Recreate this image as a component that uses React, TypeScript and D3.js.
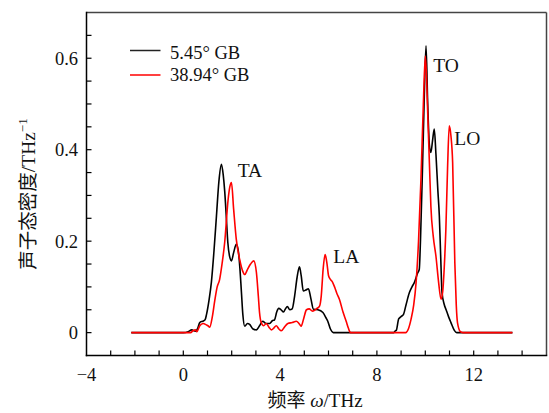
import React from "react";
import * as d3 from "d3";

const W = 549;
const H = 413;

// 5.45° GB (black)
const blackX = [-2.15, 0.0, 0.2, 0.35, 0.5, 0.6, 0.68, 0.8, 0.9, 0.96, 1.06, 1.16, 1.27, 1.37, 1.47, 1.575, 1.65, 1.71, 1.78, 1.84, 1.92, 1.99, 2.08, 2.19, 2.27, 2.34, 2.4, 2.46, 2.54, 2.65, 2.74, 2.88, 3.02, 3.15, 3.28, 3.42, 3.57, 3.68, 3.77, 3.86, 3.94, 4.04, 4.14, 4.22, 4.3, 4.4, 4.5, 4.6, 4.7, 4.8, 4.87, 4.96, 5.06, 5.17, 5.27, 5.38, 5.56, 5.77, 5.9, 5.97, 6.08, 6.2, 8.7, 8.76, 8.8, 8.9, 9.0, 9.1, 9.2, 9.34, 9.45, 9.55, 9.68, 9.75, 9.8, 9.89, 9.96, 10.03, 10.1, 10.17, 10.23, 10.3, 10.37, 10.44, 10.52, 10.58, 10.64, 10.69, 10.78, 10.86, 10.96, 11.06, 11.2, 11.3, 13.6];
const blackY = [0, 0, 0.002, 0.006, 0.003, 0.01, 0.022, 0.025, 0.028, 0.04, 0.07, 0.11, 0.18, 0.255, 0.33, 0.368, 0.345, 0.31, 0.25, 0.197, 0.165, 0.157, 0.175, 0.193, 0.18, 0.14, 0.09, 0.04, 0.014, 0.02, 0.018, 0.008, 0.006, 0.015, 0.025, 0.02, 0.02, 0.026, 0.028, 0.045, 0.053, 0.05, 0.045, 0.052, 0.057, 0.05, 0.052, 0.08, 0.12, 0.144, 0.125, 0.091, 0.093, 0.096, 0.075, 0.051, 0.05, 0.044, 0.032, 0.025, 0.008, 0, 0, 0.004, 0.005, 0.03, 0.035, 0.04, 0.06, 0.087, 0.1, 0.11, 0.13, 0.138, 0.2, 0.372, 0.52, 0.627, 0.5, 0.41, 0.394, 0.42, 0.445, 0.39, 0.31, 0.255, 0.16, 0.088, 0.062, 0.05, 0.035, 0.022, 0.005, 0, 0];

// 38.94° GB (red)
const redX = [-2.15, 0.3, 0.4, 0.5, 0.56, 0.68, 0.82, 0.95, 1.02, 1.09, 1.2, 1.3, 1.4, 1.5, 1.6, 1.71, 1.85, 1.92, 1.99, 2.08, 2.19, 2.33, 2.45, 2.54, 2.65, 2.78, 2.91, 3.02, 3.1, 3.15, 3.22, 3.32, 3.43, 3.54, 3.64, 3.74, 3.84, 3.95, 4.05, 4.18, 4.32, 4.5, 4.67, 4.78, 4.87, 4.97, 5.09, 5.2, 5.34, 5.5, 5.63, 5.7, 5.78, 5.86, 5.94, 6.0, 6.07, 6.15, 6.25, 6.35, 6.45, 6.6, 6.73, 6.82, 6.91, 9.19, 9.3, 9.41, 9.52, 9.62, 9.72, 9.82, 9.92, 10.0, 10.05, 10.1, 10.17, 10.23, 10.33, 10.44, 10.55, 10.65, 10.72, 10.79, 10.85, 10.92, 10.99, 11.06, 11.13, 11.22, 11.28, 11.33, 11.45, 11.55, 13.6];
const redY = [0, 0, 0.004, 0.006, 0.002, 0.015, 0.02, 0.017, 0.015, 0.012, 0.035, 0.07, 0.1, 0.116, 0.15, 0.197, 0.29, 0.318, 0.328, 0.27, 0.204, 0.16, 0.135, 0.127, 0.138, 0.15, 0.157, 0.132, 0.08, 0.044, 0.022, 0.015, 0.02, 0.012, 0.006, 0.01, 0.015, 0.008, 0.004, 0.012, 0.02, 0.022, 0.025, 0.02, 0.014, 0.03, 0.05, 0.052, 0.047, 0.052, 0.058, 0.08, 0.14, 0.171, 0.15, 0.125, 0.117, 0.112, 0.1, 0.085, 0.073, 0.045, 0.025, 0.01, 0, 0, 0.008, 0.029, 0.06, 0.11, 0.2, 0.335, 0.5, 0.605, 0.56, 0.48, 0.37, 0.277, 0.21, 0.167, 0.11, 0.073, 0.09, 0.15, 0.226, 0.36, 0.452, 0.43, 0.372, 0.153, 0.06, 0.022, 0.002, 0, 0];

const xMajorTicks = [-4, 0, 4, 8, 12];
const yMajorTicks = [0, 0.2, 0.4, 0.6];
const seriesNames = ["5.45° GB", "38.94° GB"];
const peakLabels = [
  { text: "TA", x: 2.25, y: 0.34 },
  { text: "LA", x: 6.2, y: 0.152 },
  { text: "TO", x: 10.33, y: 0.57 },
  { text: "LO", x: 11.2, y: 0.411 },
];

const FONT = "'Liberation Serif', 'Noto Sans CJK SC', serif";

export default function App() {
  const left = 86.5, right = 546.5, top = 12.5, bottom = 355.5;
  const x = d3.scaleLinear().domain([-4, 15]).range([left, left + 19 * 24.2]);
  const y = d3.scaleLinear().domain([-0.05, 0.7]).range([bottom, top]);

  const line = d3
    .line<[number, number]>()
    .x((d) => x(d[0]))
    .y((d) => y(d[1]))
    .curve(d3.curveMonotoneX);

  const blackData = blackX.map((v, i) => [v, blackY[i]] as [number, number]);
  const redData = redX.map((v, i) => [v, redY[i]] as [number, number]);

  const xMinor = d3.range(-3, 15, 1);
  const yMinor = d3.range(0, 0.66, 0.05);
  const tickLen = 5;

  return (
    <svg
      width={W}
      height={H}
      style={{ position: "absolute", left: 0, top: 0, background: "#fff" }}
      fontFamily={FONT}
    >
      <rect x={0} y={0} width={W} height={H} fill="#fff" />
      {/* curves */}
      <path d={line(blackData) || ""} fill="none" stroke="#000" strokeWidth={1.6} />
      <path d={line(redData) || ""} fill="none" stroke="#ff0000" strokeWidth={1.6} />

      {/* frame */}
      <line x1={left} y1={top} x2={right} y2={top} stroke="#444" strokeWidth={1.5} />
      <line x1={right} y1={top} x2={right} y2={bottom} stroke="#444" strokeWidth={1.5} />
      <line x1={left} y1={top - 0.75} x2={left} y2={bottom + 0.75} stroke="#000" strokeWidth={1.5} />
      <line x1={left - 0.75} y1={bottom} x2={right + 0.75} y2={bottom} stroke="#000" strokeWidth={1.5} />

      {/* x ticks */}
      {xMinor.map((t) => (
        <line key={"xt" + t} x1={x(t)} x2={x(t)} y1={bottom} y2={bottom - tickLen} stroke="#000" strokeWidth={1.2} />
      ))}
      {xMajorTicks.map((t) => (
        <text key={"xl" + t} x={x(t)} y={381} fontSize={18.5} textAnchor="middle" fill="#111">
          {t < 0 ? "\u2212" + Math.abs(t) : String(t)}
        </text>
      ))}

      {/* y ticks */}
      {yMinor.map((t) => (
        <line key={"yt" + t} x1={left} x2={left + tickLen} y1={y(t)} y2={y(t)} stroke="#000" strokeWidth={1.2} />
      ))}
      {yMajorTicks.map((t) => (
        <text key={"yl" + t} x={78} y={y(t) + 6.5} fontSize={18.5} textAnchor="end" fill="#111">
          {t === 0 ? "0" : t.toFixed(1)}
        </text>
      ))}

      {/* axis titles */}
      <text x={315} y={407} fontSize={19} textAnchor="middle" fill="#111">
        频率 <tspan fontStyle="italic">ω</tspan>/THz
      </text>
      <text
        transform={`translate(35, 194) rotate(-90)`}
        fontSize={19.5}
        textAnchor="middle"
        fill="#111"
      >
        声子态密度/THz<tspan dy={-8} fontSize={13}>−1</tspan>
      </text>

      {/* legend */}
      <line x1={130} x2={160.5} y1={50.5} y2={50.5} stroke="#222" strokeWidth={1.5} />
      <text x={170} y={58.5} fontSize={18.5} fill="#111">{seriesNames[0]}</text>
      <line x1={130} x2={160.5} y1={75} y2={75} stroke="#ff0000" strokeWidth={1.5} />
      <text x={170} y={81} fontSize={18.5} fill="#111">{seriesNames[1]}</text>

      {/* peak labels */}
      {peakLabels.map((p) => (
        <text key={p.text} x={x(p.x)} y={y(p.y)} fontSize={19.5} fill="#111">
          {p.text}
        </text>
      ))}
    </svg>
  );
}
